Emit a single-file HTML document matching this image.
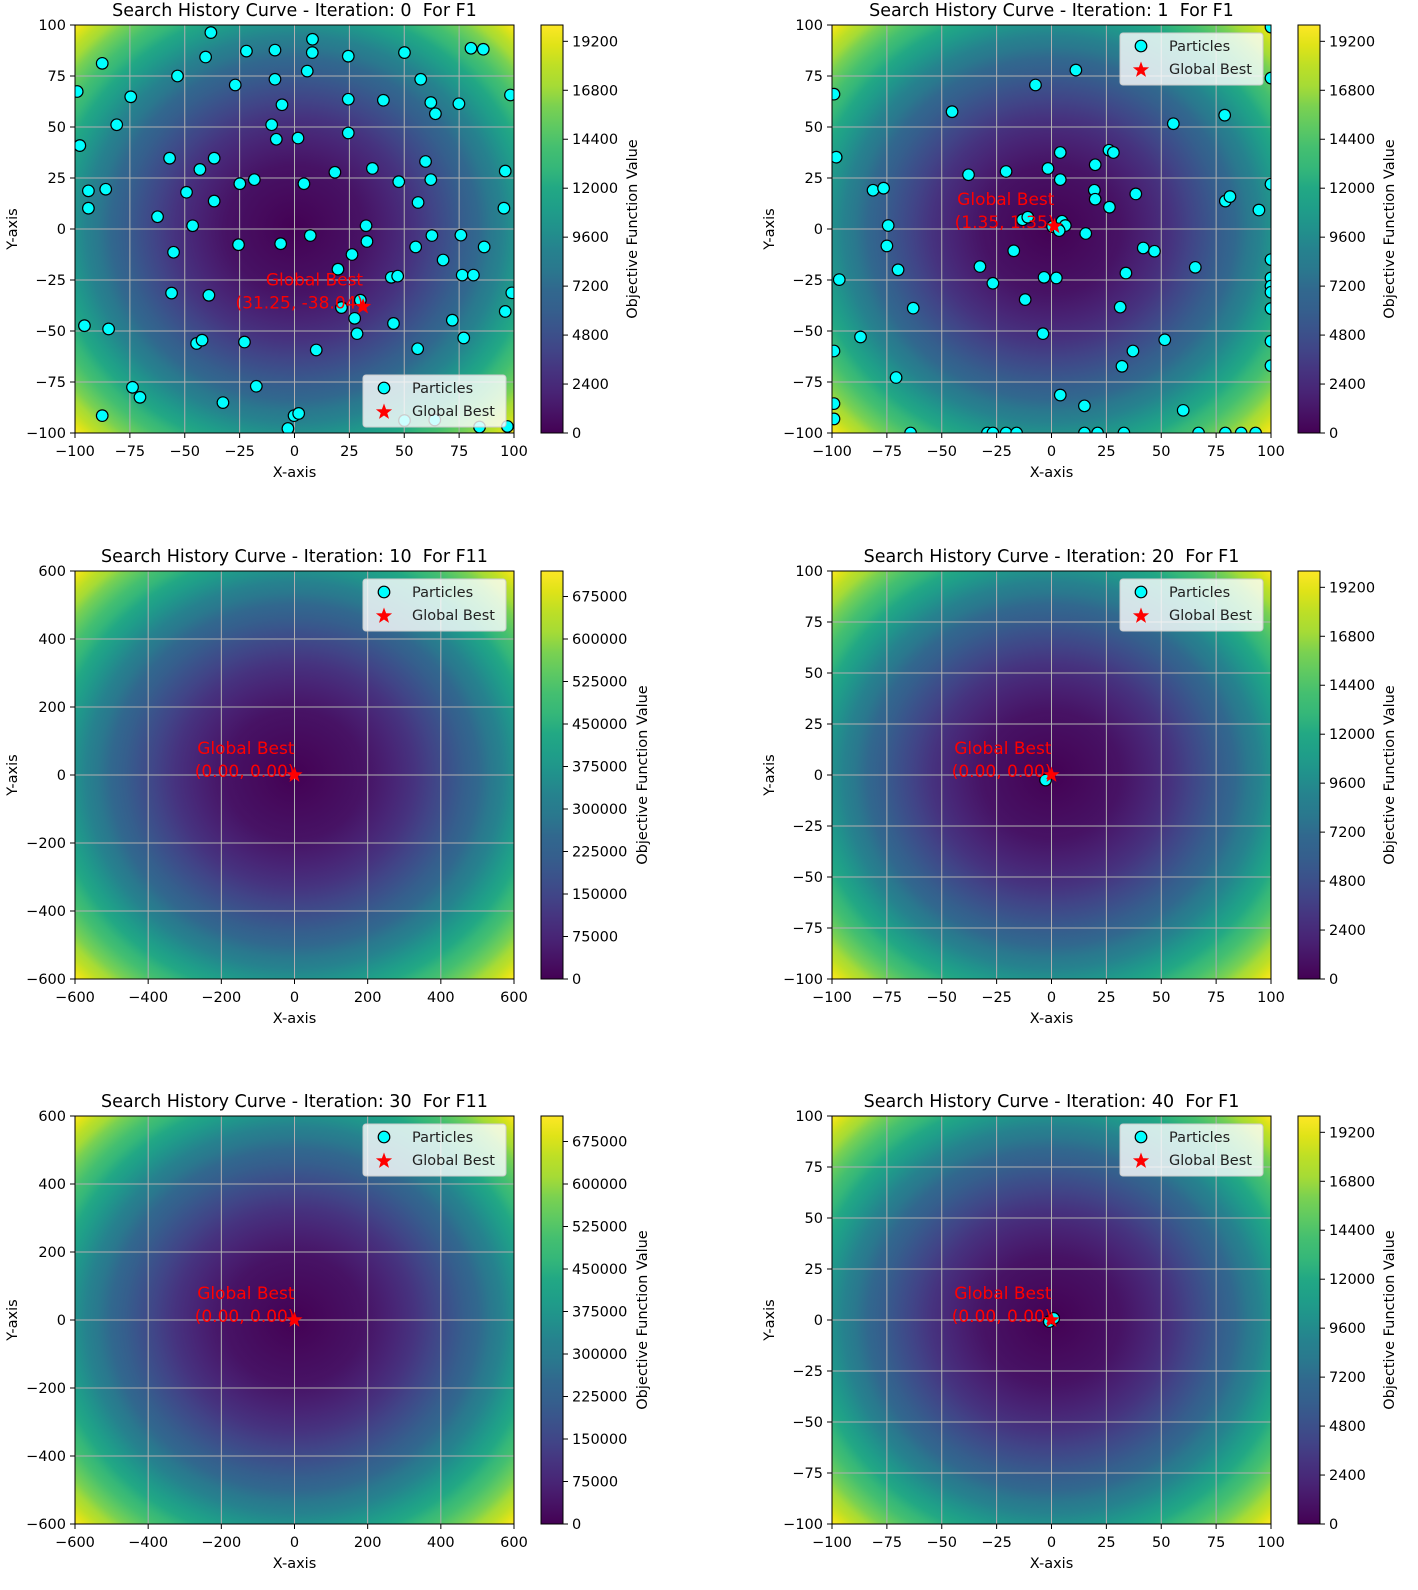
<!DOCTYPE html>
<html><head><meta charset="utf-8"><style>
html,body{margin:0;padding:0;background:#fff}
svg{display:block;font-family:"DejaVu Sans","Liberation Sans",sans-serif}
svg text{white-space:pre}
</style></head><body>
<svg id="fig" width="1418" height="1590" viewBox="0 0 1418 1590" xmlns="http://www.w3.org/2000/svg"><defs id="defs"></defs></svg>
<script>
// ---- data: particle positions per panel ----
const p0x=[-38.1,-87.6,-99,-74.6,-81,-97.8,-53.3,-40.5,-27,-21.9,-8.9,8.2,8.1,5.8,-8.9,-5.7,-10.4,-8.3,1.6,24.5,24.5,24.5,40.5,50.1,57.5,62.1,64.2,74.9,80.4,86,98.4,-56.9,-36.6,-43.1,-93.9,-86,-93.9,-49.2,-36.6,-24.9,-18.3,4.3,18.4,35.5,47.5,59.7,62.1,56.3,96,95.4,-62.4,-46.4,32.6,-55.1,-25.5,-6.3,7.2,33,26.2,19.8,55.2,62.6,75.8,86.4,67.7,44.1,47,76.4,81.5,99,-56,-39,30,21.4,27.4,45.1,28.5,71.9,96,77.1,-95.7,-84.7,-44.6,-42.1,-22.8,9.9,56.1,-73.8,-70.4,-17.4,-32.6,-87.6,-0.2,1.9,-3,50.1,63.9,84.3,97];
const p0y=[96.3,81.2,67.4,64.8,51.1,40.9,75,84.3,70.6,87.2,87.7,93,86.5,77.4,73.4,60.9,51.1,44,44.6,84.7,63.6,47.1,63.1,86.5,73.4,62,56.5,61.4,88.6,88.1,65.7,34.7,34.7,29.2,18.7,19.5,10.2,18,13.7,22.2,24.2,22.2,27.8,29.7,23.2,33.1,24.2,13,28.4,10.2,6,1.6,1.6,-11.4,-7.7,-7.2,-3.2,-6.1,-12.5,-19.7,-8.8,-3.2,-3,-8.8,-15.2,-23.7,-23.1,-22.6,-22.6,-31.3,-31.4,-32.5,-34.9,-38.5,-43.8,-46.3,-51.3,-44.7,-40.4,-53.4,-47.4,-49,-56.1,-54.5,-55.4,-59.3,-58.7,-77.6,-82.5,-77.1,-85.1,-91.5,-91.5,-90.4,-97.8,-93.9,-93.6,-97.1,-96.8];
const p1x=[-99.1,-98.1,-45.3,-7.3,11.1,55.5,78.9,4,26.2,28.2,19.9,-1.6,4,-20.7,-37.8,-81.3,-76.5,19.5,19.9,38.4,26.4,79.2,81.3,94.5,-74.4,-13.2,-10.8,4.8,6.3,-75,-69.9,-96.7,-63,-87,-99.1,-70.8,-99.1,-99.1,-32.6,-17.2,-26.7,-12,-3.4,2.2,-3.9,3,0.5,3.5,15.6,41.8,46.9,65.5,33.9,31.3,51.6,37.1,32.1,4,15,60,-64.2,-29.2,-26.7,-20.7,-15.9,15,21,33,67,79.2,86.4,93,100,100,100,100,100,100,100,100,100,100];
const p1y=[66.1,35.2,57.5,70.6,77.9,51.6,55.8,37.5,38.6,37.5,31.5,29.7,24.2,28.2,26.6,19,20,19,14.6,17.2,10.7,13.7,15.9,9.3,1.7,4.5,5.8,3.8,1.7,-8.3,-20,-24.8,-38.8,-52.9,-59.8,-72.8,-85.6,-93.1,-18.4,-10.7,-26.6,-34.6,-23.7,-24,-51.3,0,1.2,-0.8,-2.2,-9.3,-10.9,-18.8,-21.6,-38.3,-54.3,-59.8,-67.3,-81.4,-86.7,-88.9,-100,-100,-100,-100,-100,-100,-100,-100,-100,-100,-100,-100,99,74,22,-15,-24,-28,-31,-39,-55,-67];
const p2x=[0], p2y=[0];
const p3x=[-2.7], p3y=[-2.5];
const p4x=[0], p4y=[0];
const p5x=[-1,1], p5y=[-0.8,0.8];
const bestX=[31.25,1.35,0,0,0,0];
const bestY=[-38.04,1.35,0,0,0,0];
const bestLabel=['(31.25, -38.04)','(1.35, 1.35)','(0.00, 0.00)','(0.00, 0.00)','(0.00, 0.00)','(0.00, 0.00)'];
const titles=['Search History Curve - Iteration: 0  For F1','Search History Curve - Iteration: 1  For F1','Search History Curve - Iteration: 10  For F11','Search History Curve - Iteration: 20  For F1','Search History Curve - Iteration: 30  For F11','Search History Curve - Iteration: 40  For F1'];
const ticksF1=[-100,-75,-50,-25,0,25,50,75,100];
const ticksF11=[-600,-400,-200,0,200,400,600];
const cbTicksF1=[0,2400,4800,7200,9600,12000,14400,16800,19200];
const cbTicksF11=[0,75000,150000,225000,300000,375000,450000,525000,600000,675000];

const VIR=[[0,'#440154'],[0.05,'#471365'],[0.1,'#482475'],[0.15,'#46337f'],[0.2,'#414487'],[0.25,'#3b528b'],[0.3,'#355f8d'],[0.35,'#31688e'],[0.4,'#2a788e'],[0.45,'#26828e'],[0.5,'#21918c'],[0.55,'#1f9e89'],[0.6,'#22a884'],[0.65,'#35b779'],[0.7,'#44bf70'],[0.75,'#5ec962'],[0.8,'#7ad151'],[0.85,'#a5db36'],[0.9,'#bddf26'],[0.95,'#dfe318'],[1,'#fde725']];

const NS='http://www.w3.org/2000/svg';
const svg=document.getElementById('fig');
const defs=document.getElementById('defs');
function mk(tag,attrs,parent){const e=document.createElementNS(NS,tag);for(const k in attrs)e.setAttribute(k,attrs[k]);(parent||svg).appendChild(e);return e;}
function fmt(v){return v<0?'\u2212'+Math.abs(v):String(v);}

const rg=mk('radialGradient',{id:'rad',cx:'0.5',cy:'0.5',r:'0.7071',gradientUnits:'objectBoundingBox'},defs);
VIR.forEach(s=>mk('stop',{offset:Math.sqrt(s[0]),'stop-color':s[1]},rg));
const lg=mk('linearGradient',{id:'lin',x1:'0',y1:'1',x2:'0',y2:'0'},defs);
VIR.forEach(s=>mk('stop',{offset:s[0],'stop-color':s[1]},lg));

const W=439,H=408;
const panels=[
 {L:75,T:25,lim:100,max:20000,ticks:ticksF1,cb:cbTicksF1,px:p0x,py:p0y,leg:'br',cbl:562},
 {L:832,T:25,lim:100,max:20000,ticks:ticksF1,cb:cbTicksF1,px:p1x,py:p1y,leg:'tr',cbl:562},
 {L:75,T:571,lim:600,max:720000,ticks:ticksF11,cb:cbTicksF11,px:p2x,py:p2y,leg:'tr',cbl:572,noPts:true},
 {L:832,T:571,lim:100,max:20000,ticks:ticksF1,cb:cbTicksF1,px:p3x,py:p3y,leg:'tr',cbl:562},
 {L:75,T:1116,lim:600,max:720000,ticks:ticksF11,cb:cbTicksF11,px:p4x,py:p4y,leg:'tr',cbl:572,noPts:true},
 {L:832,T:1116,lim:100,max:20000,ticks:ticksF1,cb:cbTicksF1,px:p5x,py:p5y,leg:'tr',cbl:562}
];

function starPts(cx,cy,R,r){let p=[];for(let i=0;i<10;i++){const a=-Math.PI/2+i*Math.PI/5;const rr=i%2?r:R;p.push((cx+rr*Math.cos(a)).toFixed(1)+','+(cy+rr*Math.sin(a)).toFixed(1));}return p.join(' ');}

panels.forEach((P,i)=>{
  const g=mk('g',{});
  
  
  const sx=x=>P.L+(x+P.lim)/(2*P.lim)*W;
  const sy=y=>P.T+(P.lim-y)/(2*P.lim)*H;
  const cid='clip'+i;
  const cp=mk('clipPath',{id:cid},defs);mk('rect',{x:P.L,y:P.T,width:W,height:H},cp);
  const bg=mk('rect',{x:P.L,y:P.T,width:W,height:H,fill:'url(#rad)'},g);
  
  
  P.ticks.forEach(t=>{
    const x=sx(t),y=sy(t);
    mk('line',{x1:x,y1:P.T,x2:x,y2:P.T+H,stroke:'#b0b0b0','stroke-width':1},g);
    mk('line',{x1:P.L,y1:y,x2:P.L+W,y2:y,stroke:'#b0b0b0','stroke-width':1},g);
    mk('line',{x1:x,y1:P.T+H,x2:x,y2:P.T+H+5,stroke:'#000'},g);
    mk('line',{x1:P.L-5,y1:y,x2:P.L,y2:y,stroke:'#000'},g);
    const tx=mk('text',{x:x,y:P.T+H+23,'font-size':14.5,'text-anchor':'middle',fill:'#000'},g);tx.textContent=fmt(t);
    
    
    const ty=mk('text',{x:P.L-9,y:y+5,'font-size':14.5,'text-anchor':'end',fill:'#000'},g);ty.textContent=fmt(t);
    
    
  });
  const pg=mk('g',{'clip-path':'url(#'+cid+')'},g);
  if(!P.noPts){
    P.px.forEach((x,k)=>{
      const c=mk('circle',{cx:sx(x),cy:sy(P.py[k]),r:5.8,fill:'#00ffff',stroke:'#000','stroke-width':1.2},pg);
      
      
    });
  }
  const bx=sx(bestX[i]),by=sy(bestY[i]);
  const st=mk('polygon',{points:starPts(bx,by,8.5,3.5),fill:'#ff0000'},g);
  
  
  const a1=mk('text',{x:bx,y:by-21,'font-size':17,'text-anchor':'end',fill:'#ff0000'},g);a1.textContent='Global Best';
  
  
  const a2=mk('text',{x:bx,y:by+2,'font-size':17,'text-anchor':'end',fill:'#ff0000'},g);a2.textContent=bestLabel[i];
  
  
  mk('rect',{x:P.L,y:P.T,width:W,height:H,fill:'none',stroke:'#000','stroke-width':1},g);
  const ly=P.leg==='br'?P.T+350:P.T+8;
  const lgG=mk('g',{},g);
  
  
  mk('rect',{x:P.L+288,y:ly,width:143,height:52,rx:3,fill:'#fff','fill-opacity':0.8,stroke:'#cccccc'},lgG);
  mk('circle',{cx:P.L+309,cy:ly+13,r:5.8,fill:'#00ffff',stroke:'#000','stroke-width':1.2},lgG);
  mk('polygon',{points:starPts(P.L+309,ly+37,8.5,3.5),fill:'#ff0000'},lgG);
  const l1=mk('text',{x:P.L+337,y:ly+18,'font-size':14.5,fill:'#222'},lgG);l1.textContent='Particles';
  
  
  const l2=mk('text',{x:P.L+337,y:ly+41,'font-size':14.5,fill:'#222'},lgG);l2.textContent='Global Best';
  
  
  const tt=mk('text',{x:P.L+W/2,y:P.T-9,'font-size':17.5,'text-anchor':'middle',fill:'#000'},g);tt.textContent=titles[i];
  
  
  const xl=mk('text',{x:P.L+W/2,y:P.T+H+44,'font-size':14.5,'text-anchor':'middle',fill:'#000'},g);xl.textContent='X-axis';
  
  
  const yl=mk('text',{x:0,y:0,'font-size':14.5,'text-anchor':'middle',fill:'#000',transform:'translate('+(P.L-58)+','+(P.T+H/2)+') rotate(-90)'},g);yl.textContent='Y-axis';
  
  
  const cx=P.L+466,cw=22;
  const cb=mk('rect',{x:cx,y:P.T,width:cw,height:H,fill:'url(#lin)',stroke:'#000','stroke-width':1},g);
  
  
  P.cb.forEach(v=>{
    const y=P.T+H-v/P.max*H;
    mk('line',{x1:cx+cw,y1:y,x2:cx+cw+5,y2:y,stroke:'#000'},g);
    const t=mk('text',{x:cx+cw+9,y:y+5,'font-size':14.5,fill:'#000'},g);t.textContent=String(v);
    
    
  });
  const cl=mk('text',{x:0,y:0,'font-size':14.5,'text-anchor':'middle',fill:'#000',transform:'translate('+(P.L+P.cbl)+','+(P.T+H/2)+') rotate(-90)'},g);cl.textContent='Objective Function Value';
  
  
});
</script>
</body></html>
